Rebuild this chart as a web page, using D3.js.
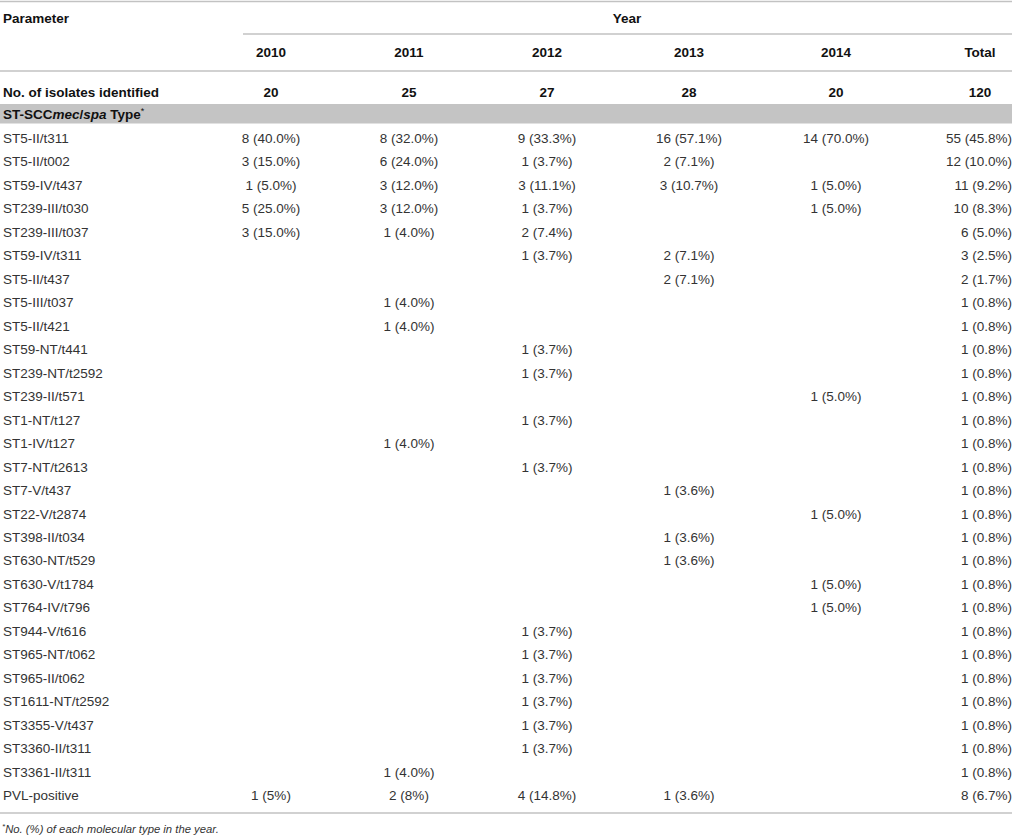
<!DOCTYPE html>
<html>
<head>
<meta charset="utf-8">
<script src="https://cdn.jsdelivr.net/npm/d3@7"></script>
<style>
  html, body { margin: 0; padding: 0; background: #fff; }
  svg { display: block; }
  text { font-family: "Liberation Sans", Arial, Helvetica, sans-serif; }
</style>
</head>
<body>
<svg id="chart" width="1014" height="837"></svg>
<script>
// ---- data ----
const columns = ["2010", "2011", "2012", "2013", "2014", "Total"];
const isolates = ["20", "25", "27", "28", "20", "120"];
const types = [
  "ST5-II/t311", "ST5-II/t002", "ST59-IV/t437", "ST239-III/t030", "ST239-III/t037",
  "ST59-IV/t311", "ST5-II/t437", "ST5-III/t037", "ST5-II/t421", "ST59-NT/t441",
  "ST239-NT/t2592", "ST239-II/t571", "ST1-NT/t127", "ST1-IV/t127", "ST7-NT/t2613",
  "ST7-V/t437", "ST22-V/t2874", "ST398-II/t034", "ST630-NT/t529", "ST630-V/t1784",
  "ST764-IV/t796", "ST944-V/t616", "ST965-NT/t062", "ST965-II/t062", "ST1611-NT/t2592",
  "ST3355-V/t437", "ST3360-II/t311", "ST3361-II/t311", "PVL-positive"
];
const y2010 = ["8 (40.0%)", "3 (15.0%)", "1 (5.0%)", "5 (25.0%)", "3 (15.0%)", "", "", "", "", "", "", "", "", "", "", "", "", "", "", "", "", "", "", "", "", "", "", "", "1 (5%)"];
const y2011 = ["8 (32.0%)", "6 (24.0%)", "3 (12.0%)", "3 (12.0%)", "1 (4.0%)", "", "", "1 (4.0%)", "1 (4.0%)", "", "", "", "", "1 (4.0%)", "", "", "", "", "", "", "", "", "", "", "", "", "", "1 (4.0%)", "2 (8%)"];
const y2012 = ["9 (33.3%)", "1 (3.7%)", "3 (11.1%)", "1 (3.7%)", "2 (7.4%)", "1 (3.7%)", "", "", "", "1 (3.7%)", "1 (3.7%)", "", "1 (3.7%)", "", "1 (3.7%)", "", "", "", "", "", "", "1 (3.7%)", "1 (3.7%)", "1 (3.7%)", "1 (3.7%)", "1 (3.7%)", "1 (3.7%)", "", "4 (14.8%)"];
const y2013 = ["16 (57.1%)", "2 (7.1%)", "3 (10.7%)", "", "", "2 (7.1%)", "2 (7.1%)", "", "", "", "", "", "", "", "", "1 (3.6%)", "", "1 (3.6%)", "1 (3.6%)", "", "", "", "", "", "", "", "", "", "1 (3.6%)"];
const y2014 = ["14 (70.0%)", "", "1 (5.0%)", "1 (5.0%)", "", "", "", "", "", "", "", "1 (5.0%)", "", "", "", "", "1 (5.0%)", "", "", "1 (5.0%)", "1 (5.0%)", "", "", "", "", "", "", "", ""];
const total = ["55 (45.8%)", "12 (10.0%)", "11 (9.2%)", "10 (8.3%)", "6 (5.0%)", "3 (2.5%)", "2 (1.7%)", "1 (0.8%)", "1 (0.8%)", "1 (0.8%)", "1 (0.8%)", "1 (0.8%)", "1 (0.8%)", "1 (0.8%)", "1 (0.8%)", "1 (0.8%)", "1 (0.8%)", "1 (0.8%)", "1 (0.8%)", "1 (0.8%)", "1 (0.8%)", "1 (0.8%)", "1 (0.8%)", "1 (0.8%)", "1 (0.8%)", "1 (0.8%)", "1 (0.8%)", "1 (0.8%)", "8 (6.7%)"];

const valueColumns = [y2010, y2011, y2012, y2013, y2014, total];

// ---- layout ----
const W = 1014, right = 1012;
const svg = d3.select("#chart");
const lineColor = "#c2c2c2";
const textColor = "#333";
const headColor = "#111";
const fs = "13.5px";

const xCol = d3.scaleOrdinal().domain(columns).range([271, 409, 547, 689, 836, 980]);
const yRow = d3.scalePoint().domain(types).range([143, 800.2]);

function hline(y, x1, x2) {
  svg.append("line").attr("x1", x1).attr("x2", x2).attr("y1", y).attr("y2", y)
    .attr("stroke", lineColor).attr("stroke-width", 1.6);
}

// header lines
hline(1.5, 0, right);
hline(34, 243, right);
hline(71, 0, right);

// header text
svg.append("text").attr("x", 3).attr("y", 23).attr("font-size", fs).attr("font-weight", "bold")
  .attr("fill", headColor).text("Parameter");
svg.append("text").attr("x", 627).attr("y", 23).attr("font-size", fs).attr("font-weight", "bold")
  .attr("fill", headColor).attr("text-anchor", "middle").text("Year");

svg.selectAll("text.colhead").data(columns).join("text").attr("class", "colhead")
  .attr("x", d => xCol(d)).attr("y", 57).attr("text-anchor", "middle")
  .attr("font-size", fs).attr("font-weight", "bold").attr("fill", headColor).text(d => d);

// isolates row
svg.append("text").attr("x", 3).attr("y", 97).attr("font-size", fs).attr("font-weight", "bold")
  .attr("fill", headColor).text("No. of isolates identified");
svg.selectAll("text.iso").data(columns.map((c, i) => ({ c, v: isolates[i] }))).join("text").attr("class", "iso")
  .attr("x", d => xCol(d.c)).attr("y", 97).attr("text-anchor", "middle")
  .attr("font-size", fs).attr("font-weight", "bold").attr("fill", headColor).text(d => d.v);

// gray band
svg.append("rect").attr("x", 0).attr("y", 104).attr("width", right).attr("height", 19.5).attr("fill", "#c4c4c4");
const band = svg.append("text").attr("x", 3).attr("y", 119).attr("font-size", fs).attr("font-weight", "bold")
  .attr("fill", headColor);
band.append("tspan").text("ST-SCC");
band.append("tspan").attr("font-style", "italic").text("mec");
band.append("tspan").text("/");
band.append("tspan").attr("font-style", "italic").text("spa");
band.append("tspan").text(" Type");
band.append("tspan").attr("font-size", "9px").attr("font-weight", "normal").attr("dy", -5).text("*");

// row labels
svg.selectAll("text.rowlab").data(types).join("text").attr("class", "rowlab")
  .attr("x", 3).attr("y", d => yRow(d)).attr("font-size", fs).attr("fill", textColor).text(d => d);

// cells
const cells = [];
valueColumns.forEach((arr, ci) => {
  arr.forEach((v, ri) => { if (v) cells.push({ col: columns[ci], row: types[ri], v }); });
});
svg.selectAll("text.cell").data(cells).join("text").attr("class", "cell")
  .attr("x", d => d.col === "Total" ? right : xCol(d.col))
  .attr("y", d => yRow(d.row))
  .attr("text-anchor", d => d.col === "Total" ? "end" : "middle")
  .attr("font-size", fs).attr("fill", textColor).text(d => d.v);

// bottom line
hline(813, 0, right);

// footnote
const foot = svg.append("text").attr("x", 2).attr("y", 833).attr("font-size", "11.3px")
  .attr("font-style", "italic").attr("fill", textColor);
foot.append("tspan").attr("font-size", "8px").attr("dy", -4).text("*");
foot.append("tspan").attr("dy", 4).text("No. (%) of each molecular type in the year.");
</script>
</body>
</html>
